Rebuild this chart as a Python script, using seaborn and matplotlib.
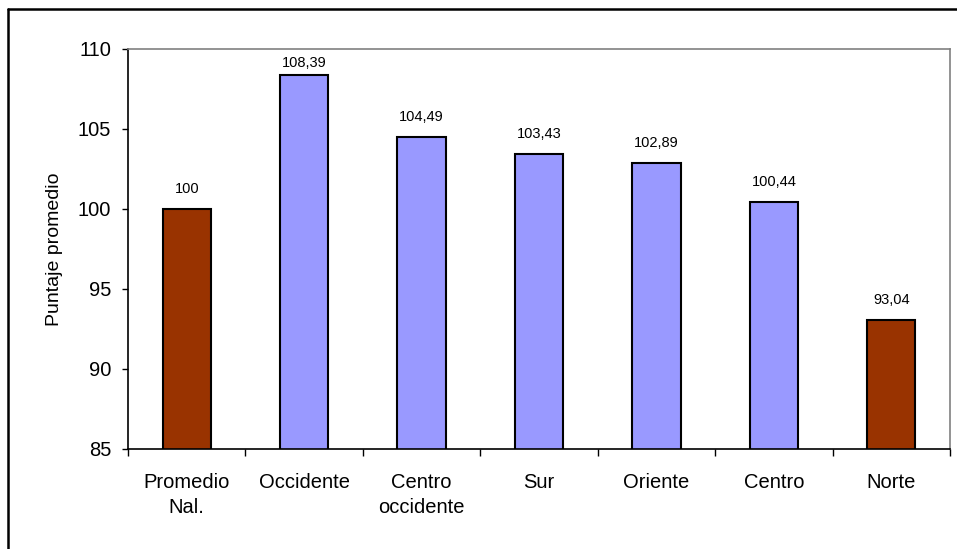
import matplotlib
matplotlib.use("Agg")
import matplotlib.pyplot as plt
import seaborn as sns
import pandas as pd
from matplotlib.lines import Line2D

categories = ["Promedio\nNal.", "Occidente", "Centro\noccidente", "Sur", "Oriente", "Centro", "Norte"]
values = [100, 108.39, 104.49, 103.43, 102.89, 100.44, 93.04]
labels = ["100", "108,39", "104,49", "103,43", "102,89", "100,44", "93,04"]
bar_colors = ["#993300", "#9999FF", "#9999FF", "#9999FF", "#9999FF", "#9999FF", "#993300"]
yticks = [85, 90, 95, 100, 105, 110]

sns.set_style("white")
plt.rcParams["font.family"] = ["Liberation Sans", "DejaVu Sans"]
plt.rcParams["text.color"] = "black"
plt.rcParams["axes.labelcolor"] = "black"
plt.rcParams["xtick.color"] = "black"
plt.rcParams["ytick.color"] = "black"

df = pd.DataFrame({"cat": categories, "val": values})

fig = plt.figure(figsize=(9.57, 5.49), dpi=100)
ax = fig.add_axes([128/957, 1-449/549, (950-128)/957, (449-49)/549])

sns.barplot(data=df, x="cat", y="val", hue="cat", palette=bar_colors, width=0.41,
            edgecolor="black", linewidth=1.5, legend=False, ax=ax, saturation=1)

ax.set_ylim(85, 110)
ax.set_xlim(-0.5, len(categories) - 0.5)
ax.set_yticks(yticks)
ax.set_yticklabels([str(t) for t in yticks])
ax.set_xlabel("")
ax.set_ylabel("Puntaje promedio", fontsize=14, labelpad=11, color="black")

for i, (v, lab) in enumerate(zip(values, labels)):
    ax.text(i, min(v + 1.25, 109.1), lab, ha="center", va="center", fontsize=10.5, color="black")

# ticks: y outward, x between categories
ax.tick_params(axis="y", direction="out", length=4, width=1, color="black", labelcolor="black",
               labelsize=14.5, pad=8, left=True)
ax.set_xticks(range(len(categories)))
ax.set_xticklabels(categories, fontsize=14.5, linespacing=1.4, color="black")
ax.tick_params(axis="x", which="major", length=0, pad=17)
ax.set_xticks([i - 0.5 for i in range(len(categories) + 1)], minor=True)
ax.tick_params(axis="x", which="minor", direction="out", length=5, width=1, color="black", bottom=True)

for s in ["left", "bottom"]:
    ax.spines[s].set_color("black")
    ax.spines[s].set_linewidth(1.2)
for s in ["top", "right"]:
    ax.spines[s].set_visible(True)
    ax.spines[s].set_color("#808080")
    ax.spines[s].set_linewidth(1.2)

# outer chart frame (top and left visible)
fig.add_artist(Line2D([8/957, 1.0], [1-9/549, 1-9/549], transform=fig.transFigure, color="black", linewidth=1.8))
fig.add_artist(Line2D([8/957, 8/957], [0.0, 1-9/549], transform=fig.transFigure, color="black", linewidth=1.8))

fig.savefig("out.png", dpi=100)
